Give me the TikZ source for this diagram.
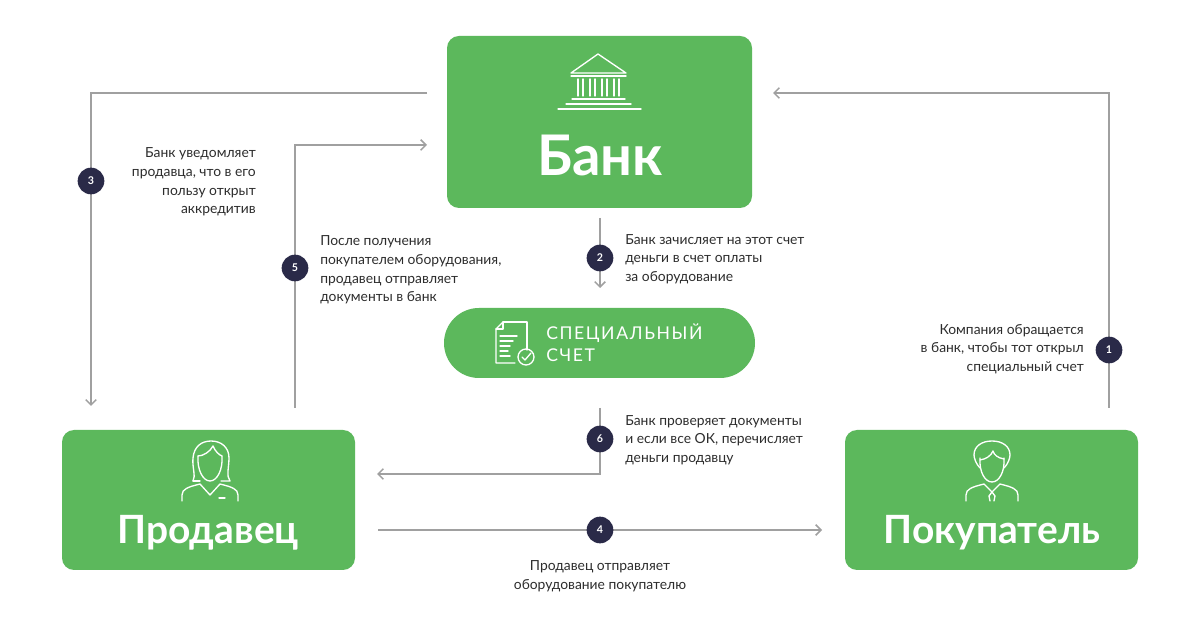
\documentclass[tikz,border=0pt]{standalone}
\usepackage{fontspec}
\setmainfont{Lato}
\usetikzlibrary{arrows.meta}
\definecolor{grn}{RGB}{92,184,92}
\definecolor{navy}{RGB}{42,42,72}
\definecolor{lnc}{RGB}{160,160,160}
\definecolor{txt}{RGB}{45,45,45}
\begin{document}
\begin{tikzpicture}[x=0.75pt,y=-0.75pt,
  box/.style={fill=grn,rounded corners=9pt,draw=none},
  conn/.style={draw=lnc,line width=1.1pt,-{Straight Barb[length=4pt,width=8pt]}},
  badge/.style={circle,fill=navy,text=white,minimum size=20pt,inner sep=0pt,font=\fontsize{8}{8}\selectfont\bfseries},
  lbl/.style={text=txt,inner sep=0pt,font=\fontsize{10.4}{13.9}\selectfont},
  icon/.style={draw=white,line width=1pt,line cap=round,line join=round},
  title/.style={text=white,font=\bfseries}]
\useasboundingbox (0,0) rectangle (1200,630);
\fill[white] (0,0) rectangle (1200,630);

% boxes
\path[box] (447,36) rectangle (752,208);
\node[title,font=\fontsize{42}{42}\selectfont\bfseries] (bank) at (600,155) {Банк};
\path[fill=grn,rounded corners=26.2pt] (444,308) rectangle (755,378);
\node[text=white,align=left,anchor=west,inner sep=0pt,font=\fontsize{13.2}{16.5}\selectfont\addfontfeature{LetterSpace=9}] (acct) at (546,343) {СПЕЦИАЛЬНЫЙ\\СЧЕТ};
\path[box] (62,430) rectangle (355,570);
\node[title,font=\fontsize{29.2}{29.2}\selectfont\bfseries] (seller) at (208,533) {Продавец};
\path[box] (845,430) rectangle (1138,570);
\node[title,font=\fontsize{29.2}{29.2}\selectfont\bfseries] (buyer) at (992,533) {Покупатель};

% bank icon
\draw[icon] (571,73) -- (598,54) -- (626,73) -- cycle;
\draw[icon] (571,76) -- (626,76);
\foreach \x in {578,583,590,595,602,607,614,619} \draw[icon] (\x,79) -- (\x,96);
\draw[icon] (572,99) -- (625,99);
\draw[icon] (566,104) -- (631,104);
\draw[icon] (558,109) -- (641,109);

% document icon
\draw[icon] (503,322) -- (527,322) -- (527,350);
\draw[icon] (503,322) -- (496,329) -- (496,363) -- (515,363);
\draw[icon] (496,329) -- (503,329) -- (503,322);
\draw[icon] (500,336) -- (517,336);
\draw[icon] (500,341) -- (513,341);
\draw[icon] (500,346) -- (510,346);
\draw[icon] (500,351) -- (508,351);
\draw[icon] (500,356) -- (510,356);
\draw[icon] (526,357) circle[radius=8];
\draw[icon] (522,357) -- (525,360) -- (531,353);

% female icon (seller)
\draw[icon] (193,481) .. controls (196,476) and (192,467) .. (193,458) .. controls (194,447) and (201,441) .. (211,441) .. controls (222,441) and (229,448) .. (229,458) .. controls (229,467) and (226,476) .. (230,481) -- (221,481);
\draw[icon] (200,481) -- (193,481);
\draw[icon] (198,456) .. controls (203,456) and (210,452) .. (213,446) .. controls (215,451) and (219,455) .. (222,456);
\draw[icon] (198,456) .. controls (197,470) and (203,481) .. (210,481) .. controls (217,481) and (223,470) .. (222,456);
\draw[icon] (182,501) -- (182,495) .. controls (182,489) and (188,487) .. (200,484) -- (210,495) -- (220,484) .. controls (232,487) and (238,489) .. (238,495) -- (238,501);
\draw[icon] (219,498) -- (225,498);

% male icon (buyer)
\draw[icon] (980,468) .. controls (976,464) and (974,458) .. (974,455) .. controls (974,446) and (982,441) .. (992,441) .. controls (1002,441) and (1010,446) .. (1010,455) .. controls (1010,458) and (1008,464) .. (1004,468);
\draw[icon] (980,460) .. controls (986,459) and (991,456) .. (993,451) .. controls (994,455) and (998,458) .. (1004,459);
\draw[icon] (980,458) .. controls (979,472) and (985,482) .. (992,482) .. controls (999,482) and (1005,472) .. (1004,458);
\draw[icon] (966,501) -- (966,495) .. controls (966,489) and (972,487) .. (984,484) -- (992,492) -- (1000,484) .. controls (1012,487) and (1018,489) .. (1018,495) -- (1018,501);
\draw[icon] (992,492) -- (989,496) -- (990,501);
\draw[icon] (992,492) -- (995,496) -- (994,501);

% coordinates
\coordinate (c1s) at (1109,408);
\coordinate (c1m) at (1109,93);
\coordinate (c1e) at (773,93);
\coordinate (c2s) at (600,218);
\coordinate (c2e) at (600,288);
\coordinate (c3s) at (427,93);
\coordinate (c3m) at (91,93);
\coordinate (c3e) at (91,406);
\coordinate (c4s) at (378,530);
\coordinate (c4e) at (822,530);
\coordinate (c5s) at (295,408);
\coordinate (c5m) at (295,145);
\coordinate (c5e) at (427,145);
\coordinate (c6s) at (600,408);
\coordinate (c6m) at (600,474);
\coordinate (c6e) at (377,474);

\draw[conn] (c1s) -- (c1m) -- (c1e);
\draw[conn] (c2s) -- (c2e);
\draw[conn] (c3s) -- (c3m) -- (c3e);
\draw[conn] (c4s) -- (c4e);
\draw[conn] (c5s) -- (c5m) -- (c5e);
\draw[conn] (c6s) -- (c6m) -- (c6e);

% badges
\node[badge] (b1) at (1109,350) {1};
\node[badge] (b2) at (600,258) {2};
\node[badge] (b3) at (91,181) {3};
\node[badge] (b4) at (600,530) {4};
\node[badge] (b5) at (295,268) {5};
\node[badge] (b6) at (600,439) {6};

% labels
\node[lbl,align=right,anchor=east] (l1) at (1084,349) {Компания обращается\\в банк, чтобы тот открыл\\специальный счет};
\node[lbl,align=left,anchor=west] (l2) at (625,259) {Банк зачисляет на этот счет\\деньги в счет оплаты\\за оборудование};
\node[lbl,align=right,anchor=east] (l3) at (256,182) {Банк уведомляет\\продавца, что в его\\пользу открыт\\аккредитив};
\node[lbl,align=center] (l4) at (600,576) {Продавец отправляет\\оборудование покупателю};
\node[lbl,align=left,anchor=west] (l5) at (320,270) {После получения\\покупателем оборудования,\\продавец отправляет\\документы в банк};
\node[lbl,align=left,anchor=west] (l6) at (625,440) {Банк проверяет документы\\и если все ОК, перечисляет\\деньги продавцу};
\end{tikzpicture}
\end{document}
